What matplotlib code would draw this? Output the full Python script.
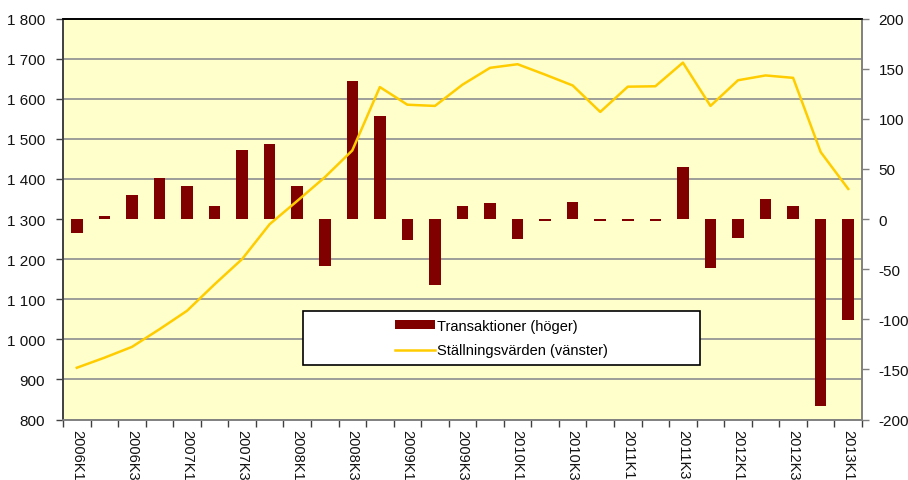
import numpy as np
import matplotlib
matplotlib.use("Agg")
import matplotlib.pyplot as plt
from matplotlib.ticker import FixedLocator, FuncFormatter, NullFormatter
from matplotlib.patches import Rectangle

plt.rcParams['font.family'] = ['Liberation Sans', 'DejaVu Sans']
plt.rcParams['axes.unicode_minus'] = False

# kvartal 2006K1 .. 2013K1
quarters = [f"{y}K{q}" for y in range(2006, 2014) for q in range(1, 5)][:29]

# Transaktioner (höger axel)
transaktioner = [-14, 2.5, 24, 41, 33, 13, 69, 75, 33, -47, 138, 103, -21, -66, 13,
                 16, -20, -2, 17, -2, -2, -2, 52, -49, -19, 20, 13, -187, -101]

# Ställningsvärden (vänster axel)
stallning = [929, 954, 981, 1025, 1071, 1137, 1200, 1287, 1345, 1404, 1471, 1629, 1585, 1582, 1635,
             1677, 1686, 1660, 1633, 1567, 1630, 1631, 1690, 1582, 1646, 1658, 1652, 1467, 1375]

bar_color = '#800000'
line_color = '#FFCC00'
bg_color = '#FFFFCC'
grid_color = '#969696'

W, H = 908, 481
fig = plt.figure(figsize=(W / 100, H / 100), dpi=100)
ax = fig.add_axes([63 / W, 1 - 420.5 / H, 799 / W, 401 / H])
ax.set_facecolor(bg_color)

x = np.arange(len(quarters))

# staplar på höger skala
ax.bar(x, transaktioner, width=0.42, color=bar_color, zorder=2,
       label='Transaktioner (höger)')
ax.set_ylim(-200, 200)
ax.set_xlim(-0.5, len(quarters) - 0.5)

# linje på vänster skala
ax2 = ax.twinx()
ax2.plot(x, stallning, color=line_color, linewidth=1.8, zorder=3,
         label='Ställningsvärden (vänster)')
ax2.set_ylim(800, 1800)
ax2.yaxis.tick_left()
ax2.yaxis.set_major_locator(FixedLocator(np.arange(800, 1801, 100)))
ax2.yaxis.set_major_formatter(FuncFormatter(lambda v, p: f"{int(v):,}".replace(',', ' ')))
ax2.tick_params(axis='y', direction='out', length=5, width=1, color='#404040',
                labelsize=11, pad=8, labelcolor='#111111')

ax.yaxis.tick_right()
ax.yaxis.set_major_locator(FixedLocator(np.arange(-200, 201, 50)))
# stödlinjer som följer vänster skala (800..1800 steg 100)
ax.yaxis.set_minor_locator(FixedLocator(np.linspace(-200, 200, 11)))
ax.yaxis.set_minor_formatter(NullFormatter())
ax.grid(axis='y', which='minor', color=grid_color, linewidth=1.3, zorder=1)
ax.set_axisbelow(True)
ax.tick_params(axis='y', which='minor', length=0, right=False, left=False)
ax.tick_params(axis='y', which='major', direction='out', length=5, width=1,
               color='#808080', labelsize=11, pad=7, labelcolor='#111111')

# x-axel: streck mellan kategorier, etikett varannan
ax.xaxis.set_major_locator(FixedLocator(np.arange(-0.5, len(quarters), 1)))
ax.xaxis.set_major_formatter(NullFormatter())
ax.xaxis.set_minor_locator(FixedLocator(x[::2]))
ax.set_xticklabels(quarters[::2], minor=True, rotation=270, fontsize=10.5,
                   va='top', ha='center', color='#111111')
ax.tick_params(axis='x', which='major', direction='out', length=5, width=1, color='#404040')
ax.tick_params(axis='x', which='minor', length=0, pad=7)

for a in (ax, ax2):
    a.spines['top'].set_color('black')
    a.spines['top'].set_linewidth(1.2)
    a.spines['left'].set_color('#404040')
    a.spines['left'].set_linewidth(1.2)
    a.spines['right'].set_color('#808080')
    a.spines['right'].set_linewidth(1.2)
    a.spines['bottom'].set_color('#808080')
    a.spines['bottom'].set_linewidth(1.2)

# legendruta
fig.patches.append(Rectangle((303 / W, 1 - 366 / H), 397 / W, 54 / H,
                             transform=fig.transFigure, facecolor='white',
                             edgecolor='black', linewidth=1.2, zorder=4))
h1, l1 = ax.get_legend_handles_labels()
h2, l2 = ax2.get_legend_handles_labels()
fig.legend(h1 + h2, l1 + l2, loc='center', bbox_to_anchor=(501.5 / W, 1 - 339 / H),
           frameon=False, fontsize=10.5, handlelength=2.7, handletextpad=0.15,
           labelspacing=0.75, handleheight=0.55)

fig.savefig('out.png', dpi=100)
